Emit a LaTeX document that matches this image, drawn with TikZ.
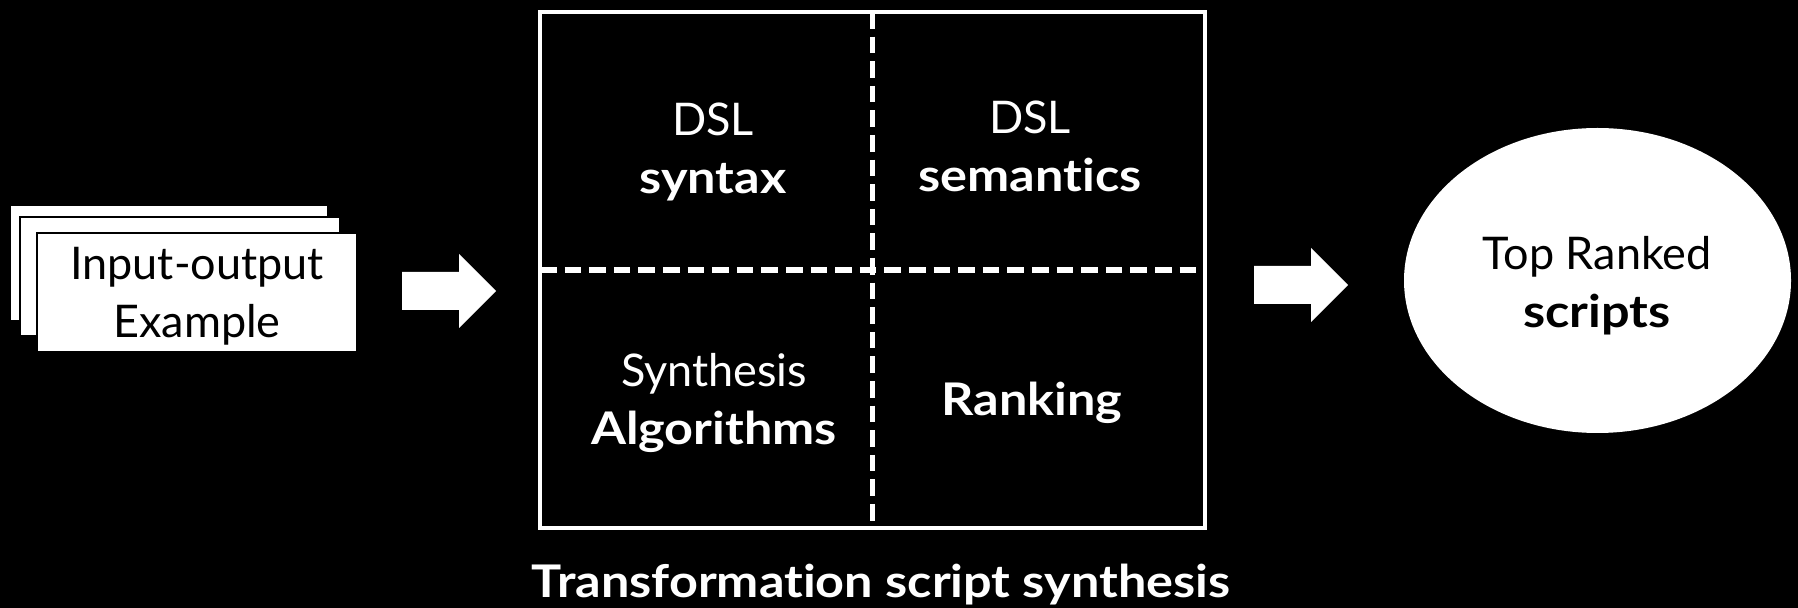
\documentclass[tikz,border=0pt]{standalone}
\usepackage{fontspec}
\setmainfont{Lato}[Ligatures={NoCommon}, BoldFeatures={FakeStretch=1.12}]
\usetikzlibrary{shapes.geometric}
% two centred lines whose baseline is the first line's baseline
\newcommand\twoline[2]{\begin{tabular}[t]{@{}c@{}}#1\\#2\end{tabular}}
\begin{document}
\begin{tikzpicture}[x=0.5pt,y=-0.5pt,
  every node/.style={inner sep=0pt, outer sep=0pt},
  txt/.style={anchor=base, font=\fontsize{22.5}{29}\selectfont},
  card/.style={draw=black, line width=1pt, fill=white},
  divider/.style={draw=white, line width=2.7pt, dash pattern=on 8.3pt off 4pt},
  blockarrow/.pic={\fill[white] (-47,-19) -- (10,-19) -- (10,-37) -- (47,0)
                     -- (10,37) -- (10,19) -- (-47,19) -- cycle;},
]
% background
\fill[black] (0,0) rectangle (1798,608);
\useasboundingbox (0,0) rectangle (1798,608);

% stack of example cards
\node[card, minimum width=159pt, minimum height=58pt]   (cardA) at (169,263)   {};
\node[card, minimum width=160pt, minimum height=59.5pt] (cardB) at (180,276.5) {};
\node[card, minimum width=160pt, minimum height=59.5pt] (cardC) at (197,292.5) {};
\node[txt, text=black] (iotext) at (197,280) {\twoline{Input-output}{Example}};

% arrow into the synthesis box
\pic at (449,291) {blockarrow};

% synthesis box with its four parts
\node[draw=white, line width=2.2pt, minimum width=332.5pt, minimum height=258pt] (synth) at (872.5,270) {};
\draw[divider] (synth.north) -- (synth.south);
\draw[divider] (synth.west) -- (synth.east);

\node[txt, text=white] (syntax)    at (713,136)  {\twoline{DSL}{\textbf{syntax}}};
\node[txt, text=white] (semantics) at (1030,134) {\twoline{DSL}{\textbf{semantics}}};
\node[txt, text=white] (algos)     at (714,387)  {\twoline{Synthesis}{\textbf{Algorithms}}};
\node[txt, text=white] (ranking)   at (1032,416) {\textbf{Ranking}};
\node[txt, text=white] (title)     at (881,597)  {\textbf{Transformation script synthesis}};

% arrow to the result
\pic at (1301,285) {blockarrow};

% result
\node[ellipse, fill=white, minimum width=193.5pt, minimum height=152.5pt] (ranked) at (1597.5,280.5) {};
\node[txt, text=black] (rankedtext) at (1597,270) {\twoline{Top Ranked}{\textbf{scripts}}};
\end{tikzpicture}
\end{document}
